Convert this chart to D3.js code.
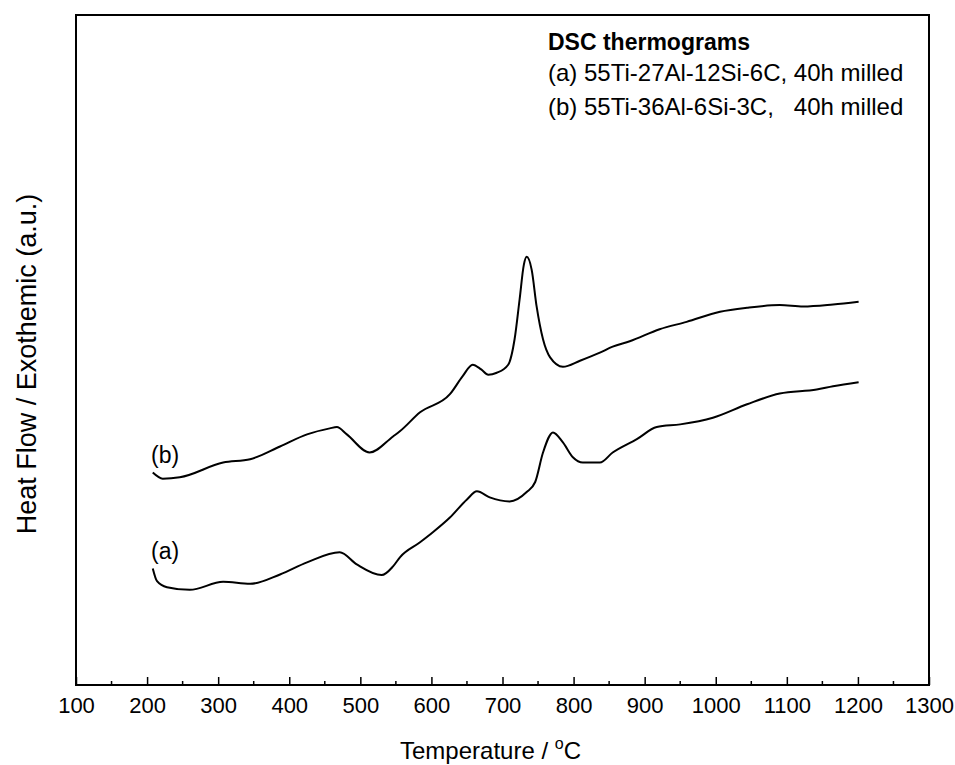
<!DOCTYPE html>
<html>
<head>
<meta charset="utf-8">
<script src="https://cdn.jsdelivr.net/npm/d3@7"></script>
<style>
  body { margin: 0; background: #fff; }
  text { font-family: Arial, "Liberation Sans", sans-serif; fill: #000; }
</style>
</head>
<body>
<div id="chart"></div>
<script>
// temperature (°C) and heat flow (a.u.)
var tempA = [208, 214, 228, 260, 307, 345, 387, 425, 471, 495, 530, 546, 556, 584, 602, 626, 650, 664, 682, 710, 734, 746, 757, 771, 785, 799, 813, 837, 855, 889, 917, 950, 996, 1044, 1090, 1142, 1165, 1201];
var flowA = [1.74, 1.55, 1.46, 1.42, 1.54, 1.51, 1.65, 1.83, 1.98, 1.80, 1.64, 1.77, 1.91, 2.13, 2.28, 2.50, 2.77, 2.89, 2.80, 2.74, 2.88, 3.03, 3.47, 3.77, 3.62, 3.40, 3.32, 3.32, 3.47, 3.67, 3.85, 3.89, 3.99, 4.19, 4.35, 4.41, 4.46, 4.52];

var tempB = [208, 222, 246, 307, 345, 387, 425, 457, 467, 481, 513, 546, 556, 584, 626, 644, 658, 670, 680, 692, 708, 717, 724, 730, 734, 741, 748, 757, 767, 785, 809, 837, 855, 879, 921, 959, 1006, 1044, 1090, 1123, 1165, 1201];
var flowB = [3.17, 3.08, 3.10, 3.32, 3.37, 3.56, 3.74, 3.83, 3.85, 3.74, 3.47, 3.71, 3.79, 4.07, 4.34, 4.61, 4.78, 4.71, 4.63, 4.66, 4.78, 5.16, 5.75, 6.27, 6.39, 6.20, 5.65, 5.16, 4.89, 4.75, 4.84, 4.96, 5.05, 5.13, 5.31, 5.42, 5.57, 5.63, 5.67, 5.65, 5.68, 5.72];

var xTicks = [100, 200, 300, 400, 500, 600, 700, 800, 900, 1000, 1100, 1200, 1300];
var xMinor = [150, 250, 350, 450, 550, 650, 750, 850, 950, 1050, 1150, 1250];

var legendLines = ["(a) 55Ti-27Al-12Si-6C, 40h milled", "(b) 55Ti-36Al-6Si-3C,   40h milled"];

var width = 955, height = 765;
var plotLeft = 76, plotRight = 929, plotTop = 15, plotBottom = 685;

var svg = d3.select("#chart").append("svg")
    .attr("width", width)
    .attr("height", height);

var x = d3.scaleLinear().domain([100, 1300]).range([plotLeft, plotRight]);
var y = d3.scaleLinear().domain([0, 10]).range([plotBottom, plotTop]);

// frame
svg.append("rect")
    .attr("x", plotLeft).attr("y", plotTop)
    .attr("width", plotRight - plotLeft).attr("height", plotBottom - plotTop)
    .attr("fill", "none").attr("stroke", "#000").attr("stroke-width", 2);

// x axis with inward ticks
var xAxis = d3.axisBottom(x)
    .tickValues(xTicks)
    .tickFormat(d3.format("d"))
    .tickSizeInner(-8).tickSizeOuter(0).tickPadding(12);

svg.append("g")
    .attr("transform", "translate(0," + plotBottom + ")")
    .call(xAxis)
    .call(g => g.select(".domain").remove())
    .call(g => g.selectAll(".tick line").attr("stroke-width", 1.5))
    .call(g => g.selectAll(".tick text")
        .attr("font-size", "22px")
        .attr("font-family", "Arial, 'Liberation Sans', sans-serif"));

svg.append("g")
    .selectAll("line")
    .data(xMinor)
    .enter().append("line")
    .attr("x1", d => x(d)).attr("x2", d => x(d))
    .attr("y1", plotBottom).attr("y2", plotBottom - 4)
    .attr("stroke", "#000").attr("stroke-width", 1.5);

// curves
var line = d3.line()
    .x(d => x(d[0]))
    .y(d => y(d[1]))
    .curve(d3.curveMonotoneX);

var seriesA = tempA.map((t, i) => [t, flowA[i]]);
var seriesB = tempB.map((t, i) => [t, flowB[i]]);

[seriesA, seriesB].forEach(function(s) {
    svg.append("path")
        .datum(s)
        .attr("d", line)
        .attr("fill", "none")
        .attr("stroke", "#000")
        .attr("stroke-width", 2);
});

// curve labels
svg.append("text").attr("x", 151).attr("y", 463).attr("font-size", "23px").text("(b)");
svg.append("text").attr("x", 151).attr("y", 559).attr("font-size", "23px").text("(a)");

// legend text
svg.append("text")
    .attr("x", 548).attr("y", 50)
    .attr("font-size", "23px").attr("font-weight", "bold")
    .text("DSC thermograms");

svg.append("g").selectAll("text")
    .data(legendLines)
    .enter().append("text")
    .attr("x", 548)
    .attr("y", (d, i) => 81 + i * 34)
    .attr("font-size", "24px")
    .style("white-space", "pre")
    .text(d => d);

// axis titles
var xt = svg.append("text")
    .attr("x", (plotLeft + plotRight) / 2 - 12).attr("y", 759)
    .attr("text-anchor", "middle")
    .attr("font-size", "24px");
xt.append("tspan").text("Temperature / ");
xt.append("tspan").attr("font-size", "16px").attr("dy", -10).text("o");
xt.append("tspan").attr("dy", 10).text("C");

svg.append("text")
    .attr("transform", "translate(36," + 364 + ") rotate(-90)")
    .attr("text-anchor", "middle")
    .attr("font-size", "27px")
    .text("Heat Flow / Exothemic (a.u.)");
</script>
</body>
</html>
